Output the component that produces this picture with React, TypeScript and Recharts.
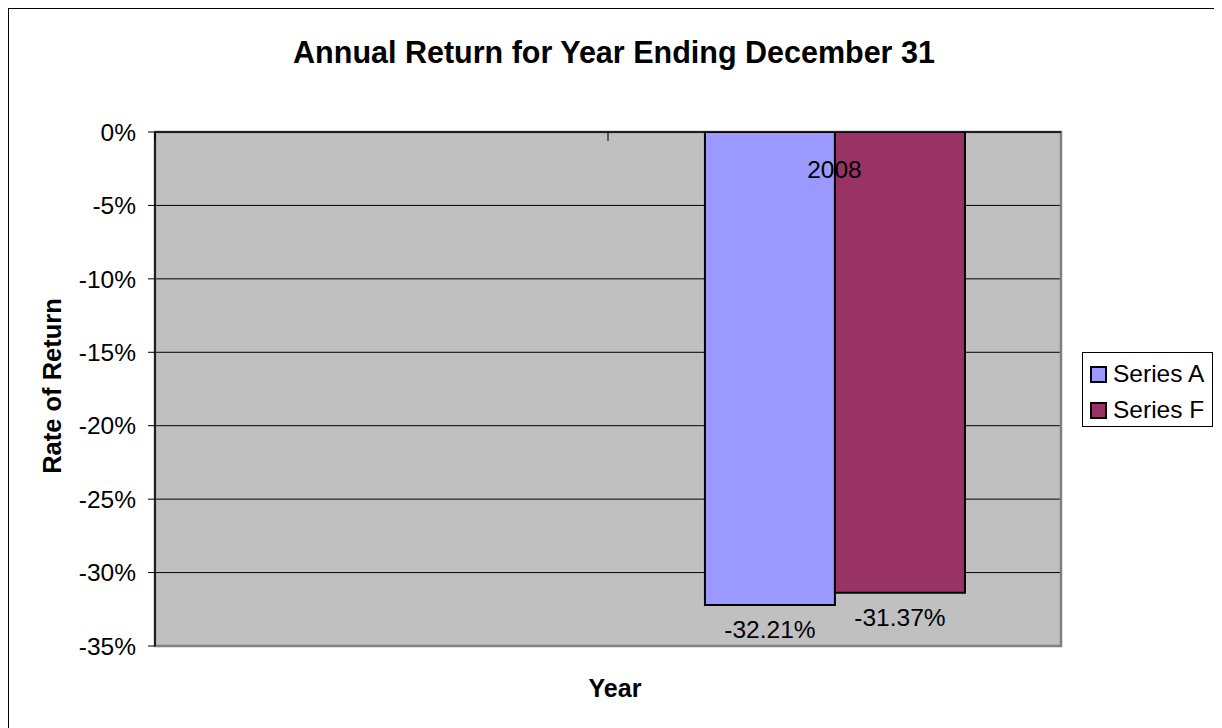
import React from 'react';
import { BarChart, Bar, XAxis, YAxis, CartesianGrid, ReferenceArea, LabelList } from 'recharts';

const FONT = '"Liberation Sans", Arial, Helvetica, sans-serif';

// ---- data ----
const categories = ['', '2008'];
const seriesAValues: (number | null)[] = [null, -32.21];
const seriesFValues: (number | null)[] = [null, -31.37];
const seriesKeys = ['a', 'f'];
const seriesNames = ['Series A', 'Series F'];
const seriesColors = ['#9999FF', '#993366'];
const yTicks = [0, -5, -10, -15, -20, -25, -30, -35];
const titleText = 'Annual Return for Year Ending December 31';
const xTitle = 'Year';
const yTitle = 'Rate of Return';

const data = categories.map((c, i) => ({ year: c, a: seriesAValues[i], f: seriesFValues[i] }));

// ---- layout ----
const CHART_W = 1220;
const CHART_H = 730;
const AXIS_W = 1;
const AXIS_H = 1;
const MARGIN = { top: 123 - AXIS_H, left: 146 - AXIS_W, right: 168, bottom: 93 };
const PLOT_W = CHART_W - MARGIN.left - AXIS_W - MARGIN.right;
const HALF_BAND = PLOT_W / categories.length / 2;
const FS = 24.5;

const XTick = (props: any) => {
  const { x, y, payload } = props;
  return (
    <g>
      <line x1={x - HALF_BAND} x2={x - HALF_BAND} y1={y} y2={y + 9} stroke="#000" strokeWidth={1} />
      {payload && payload.value ? (
        <text x={x} y={y + 46} textAnchor="middle" fontSize={FS} fontFamily={FONT} fill="#000">
          {payload.value}
        </text>
      ) : null}
    </g>
  );
};

const ValueLabel = (props: any) => {
  const { x, y, width, height, value } = props;
  if (value === null || value === undefined) return null;
  const bottom = Math.max(Number(y), Number(y) + Number(height));
  return (
    <text x={Number(x) + Number(width) / 2} y={bottom + 33} textAnchor="middle" fontSize={FS} fontFamily={FONT} fill="#000">
      {Number(value).toFixed(2)}%
    </text>
  );
};

export default function App() {
  return (
    <div
      style={{
        position: 'relative',
        width: 1214,
        height: 720,
        borderLeft: '1px solid #000',
        borderTop: '1px solid #000',
        boxSizing: 'border-box',
        fontFamily: FONT,
        background: '#fff',
      }}
    >
      <style>{'html{overflow:hidden;}'}</style>
      <BarChart
        width={CHART_W}
        height={CHART_H}
        data={data}
        margin={MARGIN}
        barCategoryGap="21.4%"
        barGap={0}
      >
        <CartesianGrid horizontal vertical={false} stroke="#000" strokeWidth={1} fill="#C0C0C0" fillOpacity={1} />
        <ReferenceArea y1={-35} y2={0} fill="none" stroke="#808080" strokeWidth={2.5} ifOverflow="visible" />
        <XAxis
          dataKey="year"
          orientation="top"
          height={AXIS_H}
          tickSize={0}
          tickMargin={0}
          interval={0}
          axisLine={{ stroke: '#000', strokeWidth: 1.5 }}
          tickLine={false}
          tick={<XTick />}
        />
        <YAxis
          width={AXIS_W}
          domain={[-35, 0]}
          ticks={yTicks}
          interval={0}
          allowDataOverflow
          tickFormatter={(v: number) => `${v}%`}
          tickSize={7}
          tickMargin={12}
          axisLine={{ stroke: '#000', strokeWidth: 1.5 }}
          tickLine={{ stroke: '#000' }}
          tick={{ fill: '#000', fontSize: FS, fontFamily: FONT }}
        />
        {seriesKeys.map((k, i) => (
          <Bar key={k} dataKey={k} name={seriesNames[i]} fill={seriesColors[i]} stroke="#000" strokeWidth={2} isAnimationActive={false}>
            <LabelList dataKey={k} content={<ValueLabel />} />
          </Bar>
        ))}
      </BarChart>

      <svg
        width={CHART_W}
        height={CHART_H}
        style={{ position: 'absolute', left: 0, top: 0, pointerEvents: 'none' }}
      >
        <text x={605} y={54} textAnchor="middle" fontSize={30.5} fontWeight="bold" fontFamily={FONT} fill="#000">
          {titleText}
        </text>
        <text x={606} y={688} textAnchor="middle" fontSize={25} fontWeight="bold" fontFamily={FONT} fill="#000">
          {xTitle}
        </text>
        <text
          x={52}
          y={377}
          textAnchor="middle"
          fontSize={25.5}
          fontWeight="bold"
          fontFamily={FONT}
          fill="#000"
          transform="rotate(-90, 52, 377)"
        >
          {yTitle}
        </text>
      </svg>

      <div
        style={{
          position: 'absolute',
          left: 1073,
          top: 343,
          width: 131,
          height: 75,
          border: '1px solid #000',
          boxSizing: 'border-box',
          background: '#fff',
        }}
      >
        {seriesNames.map((n, i) => (
          <div
            key={n}
            style={{
              position: 'absolute',
              left: 7,
              top: 3 + i * 36,
              height: 36,
              display: 'flex',
              alignItems: 'center',
              fontSize: FS,
              whiteSpace: 'nowrap',
              color: '#000',
            }}
          >
            <span
              style={{
                display: 'inline-block',
                width: 17,
                height: 17,
                boxSizing: 'border-box',
                border: '2px solid #000',
                background: seriesColors[i],
                marginRight: 6,
              }}
            />
            {n}
          </div>
        ))}
      </div>
    </div>
  );
}
